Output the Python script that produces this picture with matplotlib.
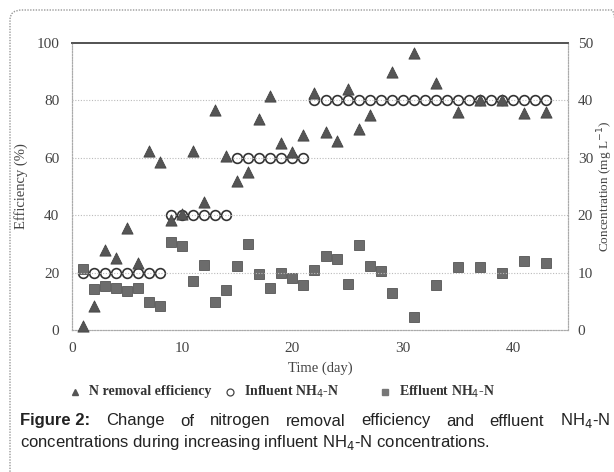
import numpy as np
import matplotlib
matplotlib.use("Agg")
import matplotlib.pyplot as plt
from matplotlib.patches import FancyBboxPatch
from matplotlib.lines import Line2D

# efficiency (%) - left axis
eff_days = [1, 2, 3, 4, 5, 6, 7, 8, 9, 10, 11, 12, 13, 14, 15, 16, 17, 18, 19, 20,
            21, 22, 23, 24, 25, 26, 27, 29, 31, 33, 35, 37, 39, 41, 43]
eff_vals = [1.5, 8.5, 28, 25, 35.5, 23.5, 62.5, 58.5, 38.5, 40.5, 62.5, 44.5, 76.5, 60.5,
            52, 55, 73.5, 81.5, 65, 62, 68, 82.5, 69, 66, 84, 70, 75, 90, 96.5, 86,
            76, 80, 80, 75.5, 76]

# influent NH4-N (mg/L) - right axis
inf_days = list(range(1, 44))
inf_vals = [10] * 8 + [20] * 6 + [30] * 7 + [40] * 22

# effluent NH4-N (mg/L) - right axis
effl_days = [1, 2, 3, 4, 5, 6, 7, 8, 9, 10, 11, 12, 13, 14, 15, 16, 17, 18, 19, 20,
             21, 22, 23, 24, 25, 26, 27, 28, 29, 31, 33, 35, 37, 39, 41, 43]
effl_vals = [10.6, 7.1, 7.7, 7.3, 6.8, 7.3, 4.9, 4.2, 15.3, 14.6, 8.5, 11.3, 4.9, 7.0,
             11.1, 15.0, 9.8, 7.3, 9.9, 9.0, 7.8, 10.5, 12.9, 12.4, 8.0, 14.8, 11.1,
             10.3, 6.4, 2.3, 7.8, 11.0, 11.0, 9.9, 12.0, 11.7]

legend_labels = ["N removal efficiency", "Influent NH$_4$-N", "Effluent NH$_4$-N"]

serif = "Liberation Serif"
sans = "Liberation Sans"
txt_col = "#444444"

fig = plt.figure(figsize=(6.14, 4.72), dpi=100)

# dotted rounded frame around the figure
frame = FancyBboxPatch((10 / 614, -0.05), 1.0, 1 - 10 / 472 + 0.05,
                       boxstyle="round,pad=0,rounding_size=0.02",
                       transform=fig.transFigure, fill=False,
                       edgecolor="#999999", linestyle=(0, (1, 1)), linewidth=1.0)
fig.patches.append(frame)

ax = fig.add_axes([72 / 614, 1 - 330 / 472, (568 - 72) / 614, (330 - 43) / 472])
ax2 = ax.twinx()

ax.scatter(eff_days, eff_vals, marker="^", s=65, color="#555555",
           edgecolor="#444444", linewidth=0.6, zorder=4, clip_on=False)
ax2.plot(inf_days, inf_vals, "o", ms=7, mfc="white", mec="#333333", mew=1.2,
         zorder=3, clip_on=False)
ax2.plot(effl_days, effl_vals, "s", ms=6.5, color="#6c6c6c", mec="#555555",
         mew=0.6, zorder=3, clip_on=False)
ax.set_zorder(ax2.get_zorder() + 1)
ax.patch.set_visible(False)

ax.set_xlim(0, 45)
ax.set_ylim(0, 100)
ax2.set_ylim(0, 50)
ax.set_xticks([0, 10, 20, 30, 40])
ax.set_yticks([0, 20, 40, 60, 80, 100])
ax2.set_yticks([0, 10, 20, 30, 40, 50])

for y in [20, 40, 60, 80]:
    ax.axhline(y, color="#bbbbbb", linestyle=(0, (1, 1.5)), linewidth=0.8, zorder=0)

for a in (ax, ax2):
    for side in ("left", "right", "bottom"):
        a.spines[side].set_linestyle((0, (1, 1.5)))
        a.spines[side].set_color("#aaaaaa")
        a.spines[side].set_linewidth(0.8)
    a.spines["top"].set_color("#555555")
    a.spines["top"].set_linewidth(1.3)
    a.tick_params(length=0, labelsize=11, labelcolor=txt_col)
    for lab in a.get_xticklabels() + a.get_yticklabels():
        lab.set_fontfamily(serif)

ax.tick_params(axis="y", pad=9)
ax.tick_params(axis="x", pad=9)
ax2.tick_params(axis="y", pad=7)

ax.set_xlabel("Time (day)", fontsize=10.5, family=serif, color=txt_col, labelpad=4)
ax.set_ylabel("Efficiency (%)", fontsize=10.5, family=serif, color=txt_col, labelpad=6)
# right label sits hard against the edge, as in the original
fig.text(605 / 614, 1 - 186 / 472, "Concentration (mg L$^{-1}$)", rotation=90,
         fontsize=9.5, family=serif, color=txt_col, ha="center", va="center")

# legend row, drawn by hand so the entries sit where the original has them
ly = 1 - 392 / 472
marker_x = [75, 230, 385]
text_x = [89, 244, 399]
styles = [
    dict(marker="^", ms=5, color="#555555"),
    dict(marker="o", ms=5, mfc="white", mec="#444444", mew=0.9),
    dict(marker="s", ms=4.5, color="#777777"),
]
for mx, tx, st, lab in zip(marker_x, text_x, styles, legend_labels):
    fig.add_artist(Line2D([mx / 614], [ly], ls="none", transform=fig.transFigure, **st))
    fig.text(tx / 614, ly, lab, family=serif, weight="bold", size=10,
             color="#333333", va="center")

# justified caption, first line
line1 = ["Figure 2:", "Change", "of", "nitrogen", "removal", "efficiency", "and",
         "effluent", "NH$_4$-N"]
y1 = 1 - 421 / 472
fig.canvas.draw()
renderer = fig.canvas.get_renderer()
words = []
for i, w in enumerate(line1):
    t = fig.text(0, y1, w, fontsize=12, family=sans, color="#222222",
                 weight="bold" if i == 0 else "normal", va="center")
    words.append(t)
widths = [t.get_window_extent(renderer).width for t in words]
x0, x1 = 20, 610
gap = (x1 - x0 - sum(widths)) / (len(words) - 1)
x = x0
for t, w in zip(words, widths):
    t.set_x(x / 614)
    x += w + gap
fig.text(20 / 614, 1 - 442 / 472,
         "concentrations during increasing influent NH$_4$-N concentrations.",
         fontsize=12, family=sans, color="#222222", va="center")

fig.savefig("out.png", dpi=100)
